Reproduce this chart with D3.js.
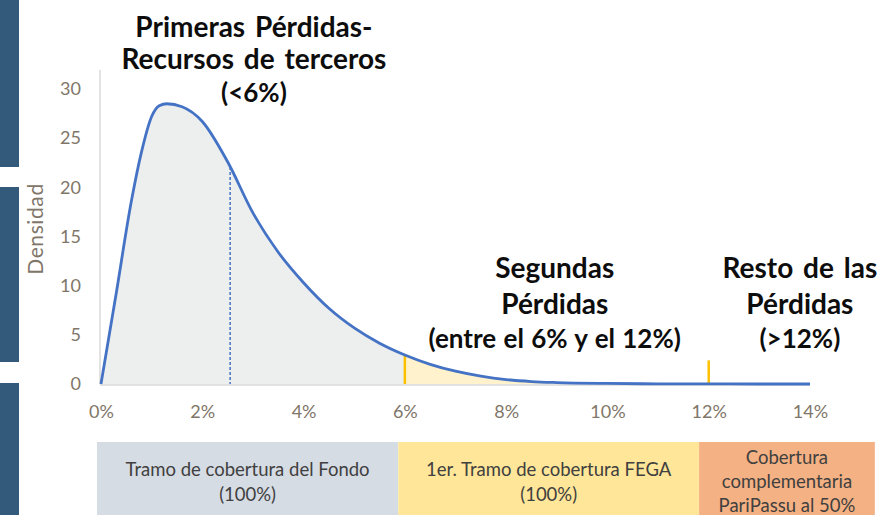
<!DOCTYPE html>
<html><head><meta charset="utf-8">
<script src="https://cdn.jsdelivr.net/npm/d3@7"></script>
<style>
html,body{margin:0;padding:0;background:#fff;}
svg{display:block;}
</style></head>
<body>
<svg id="c" width="881" height="515"></svg>
<script>
// ---- data ----
const lossPct = [0, 0.3, 0.6, 0.8, 1.0, 1.15, 1.3, 1.6, 2.0, 2.5, 3.0, 3.5, 4.0, 4.5, 5.0, 5.5, 6.0, 6.5, 7.0, 7.5, 8.0, 8.5, 9.0, 10.0, 11.0, 12.0, 13.0, 14.0];
const density = [0, 9.2, 18.6, 23.6, 27.2, 28.3, 28.5, 28.2, 26.7, 22.6, 17.4, 13.4, 10.3, 7.7, 5.7, 4.15, 2.95, 2.0, 1.3, 0.8, 0.45, 0.25, 0.15, 0.06, 0.02, 0.01, 0, 0];
const xTicks = [0, 2, 4, 6, 8, 10, 12, 14];
const yTicks = [0, 5, 10, 15, 20, 25, 30];
const dashedAt = 2.55;          // dashed marker (expected loss)
const thresholds = [6, 12];     // tranche limits
const marker12Height = 2.4;     // height of orange marker at 12%
const tranches = [
  {from: -0.08, to: 5.87, lines: ["Tramo de cobertura del Fondo", "(100%)"], color: "#d6dce4"},
  {from: 5.87, to: 11.81, lines: ["1er. Tramo de cobertura FEGA", "(100%)"], color: "#ffe699"},
  {from: 11.81, to: 15.28, lines: ["Cobertura", "complementaria", "PariPassu al 50%"], color: "#f4b183"}
];
const annotations = [
  {x: 3.02, lines: ["Primeras Pérdidas-", "Recursos de terceros", "(<6%)"], baselines: [37, 69, 102]},
  {x: 8.96, lines: ["Segundas", "Pérdidas", "(entre el 6% y el 12%)"], baselines: [278, 314, 348]},
  {x: 13.8, lines: ["Resto de las", "Pérdidas", "(>12%)"], baselines: [278, 314, 348]}
];

// ---- scales ----
const svg = d3.select("#c");
const FONT = "Lato, 'Open Sans', sans-serif";
const x = d3.scaleLinear().domain([0, 14]).range([101, 810]);
const y = d3.scaleLinear().domain([0, 30]).range([384, 89]);
const pts = lossPct.map((v, i) => ({x: v, y: density[i]}));
const interp = (xv) => {
  for (let i = 1; i < pts.length; i++) {
    if (xv <= pts[i].x) {
      const a = pts[i-1], b = pts[i];
      return a.y + (b.y - a.y) * (xv - a.x) / (b.x - a.x);
    }
  }
  return 0;
};

// left decorative bars
[[0,167],[187,362],[383,515]].forEach(([a,b]) => {
  svg.append("rect").attr("x",0).attr("y",a).attr("width",19).attr("height",b-a).attr("fill","#335a7b");
});

// area fills
const area = d3.area().x(d => x(d.x)).y0(y(0)).y1(d => y(d.y)).curve(d3.curveMonotoneX);
const seg = (lo, hi) => {
  const arr = pts.filter(p => p.x > lo && p.x < hi);
  return [{x: lo, y: interp(lo)}, ...arr, {x: hi, y: interp(hi)}];
};
svg.append("path").datum(seg(0, 6)).attr("d", area).attr("fill", "#edeeee");
svg.append("path").datum(seg(6, 12)).attr("d", area).attr("fill", "#fff2cc");

// axes lines
svg.append("line").attr("x1", x(0)-1).attr("x2", x(0)-1).attr("y1", 70).attr("y2", y(0)).attr("stroke", "#d9d9d9").attr("stroke-width", 1.5);
svg.append("line").attr("x1", x(0)-1).attr("x2", x(14)).attr("y1", y(0)+1).attr("y2", y(0)+1).attr("stroke", "#d9d9d9").attr("stroke-width", 1.5);

// y axis ticks
const yAxis = d3.axisLeft(y).tickValues(yTicks).tickSize(0).tickPadding(20);
const gy = svg.append("g").attr("transform", `translate(${x(0)},0)`).call(yAxis);
gy.select(".domain").remove();
gy.selectAll("text").attr("font-family", FONT).attr("font-size", 18).attr("fill", "#7f7669");

// x axis ticks
const xAxis = d3.axisBottom(x).tickValues(xTicks).tickSize(0).tickPadding(21).tickFormat(d => d + "%");
const gx = svg.append("g").attr("transform", `translate(0,${y(0)})`).call(xAxis);
gx.select(".domain").remove();
gx.selectAll("text").attr("font-family", FONT).attr("font-size", 18).attr("fill", "#7f7669");

// y title
svg.append("text").attr("transform", `translate(43,229) rotate(-90)`).attr("text-anchor", "middle")
  .attr("font-family", FONT).attr("font-size", 21).attr("letter-spacing", 0.6).attr("fill", "#7f7669").text("Densidad");

// dashed marker
svg.append("line").attr("x1", x(dashedAt)).attr("x2", x(dashedAt)).attr("y1", y(interp(dashedAt))).attr("y2", y(0))
  .attr("stroke", "#4472c4").attr("stroke-width", 1.5).attr("stroke-dasharray", "3,2");

// orange threshold markers
svg.append("line").attr("x1", x(thresholds[0])).attr("x2", x(thresholds[0])).attr("y1", y(interp(thresholds[0]))).attr("y2", y(0))
  .attr("stroke", "#ffc000").attr("stroke-width", 2.5);
svg.append("line").attr("x1", x(thresholds[1])).attr("x2", x(thresholds[1])).attr("y1", y(marker12Height)).attr("y2", y(0))
  .attr("stroke", "#ffc000").attr("stroke-width", 2.5);

// curve
const line = d3.line().x(d => x(d.x)).y(d => y(d.y)).curve(d3.curveMonotoneX);
svg.append("path").datum(pts).attr("d", line).attr("fill", "none").attr("stroke", "#4472c4").attr("stroke-width", 2.8);

// annotations
annotations.forEach(a => {
  const t = svg.append("text").attr("text-anchor", "middle").attr("font-family", FONT)
    .attr("font-weight", "bold").attr("fill", "#0d0d0d");
  a.lines.forEach((l, i) => {
    t.append("tspan").attr("x", x(a.x)).attr("y", a.baselines[i])
      .attr("font-size", i === 2 ? 26 : 28).attr("word-spacing", i === 2 ? 1 : 3).text(l);
  });
});

// tranche boxes
tranches.forEach(tr => {
  const x0 = x(tr.from), x1 = x(tr.to);
  svg.append("rect").attr("x", x0).attr("y", 442).attr("width", x1 - x0).attr("height", 73).attr("fill", tr.color);
  const n = tr.lines.length;
  const startY = n === 2 ? 476 : 464;
  const step = n === 2 ? 25 : 24;
  const t = svg.append("text").attr("text-anchor", "middle").attr("font-family", FONT)
    .attr("font-size", 18.5).attr("fill", "#404040");
  tr.lines.forEach((l, i) => {
    t.append("tspan").attr("x", (x0 + x1) / 2).attr("y", startY + i * step).text(l);
  });
});
</script>
</body></html>
